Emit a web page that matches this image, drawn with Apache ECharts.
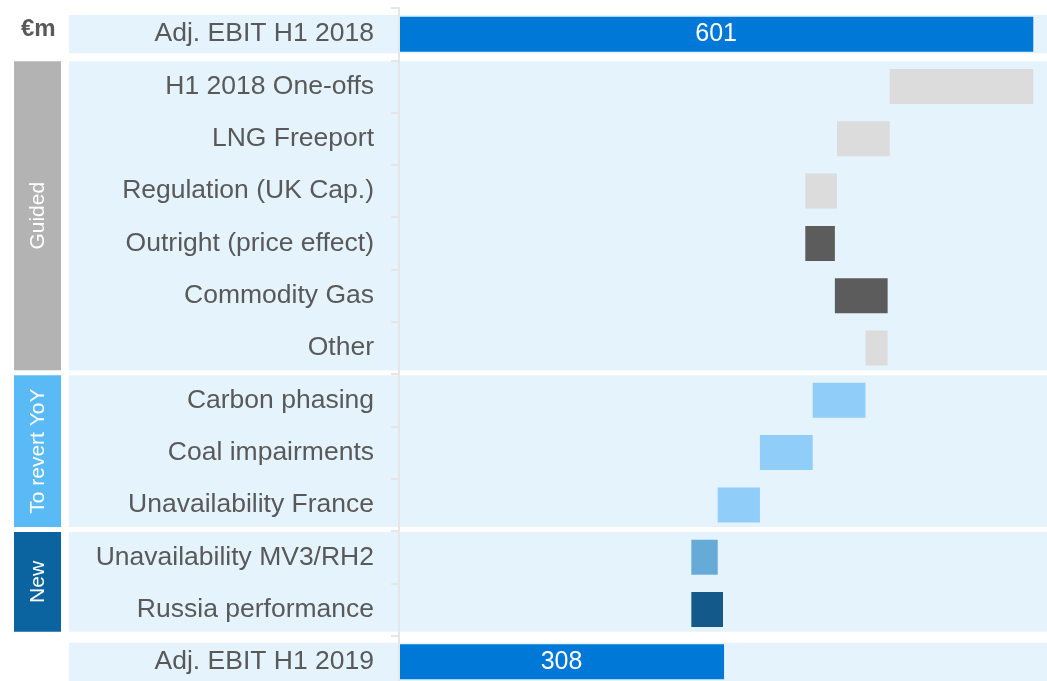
<!DOCTYPE html>
<html>
<head>
<meta charset="utf-8">
<script src="https://cdn.jsdelivr.net/npm/echarts@6/dist/echarts.min.js"></script>
<style>
  html, body { margin: 0; padding: 0; background: #fff; }
  #chart { width: 1047px; height: 681px; }
</style>
</head>
<body>
<div id="chart"></div>
<script>
// rows top to bottom
const categories = [
  "Adj. EBIT H1 2018", "H1 2018 One-offs", "LNG Freeport", "Regulation (UK Cap.)",
  "Outright (price effect)", "Commodity Gas", "Other", "Carbon phasing",
  "Coal impairments", "Unavailability France", "Unavailability MV3/RH2",
  "Russia performance", "Adj. EBIT H1 2019"
];
const startTotal = 601;
const deltas = [-136, -50, -30, 28, 50, -21, -50, -50, -40, -25, 30];
const endTotal = 308;
const barColors = [
  "#0078d7", "#dcdcdc", "#dcdcdc", "#dcdcdc", "#5c5c5c", "#5c5c5c", "#dcdcdc",
  "#90cdf8", "#90cdf8", "#90cdf8", "#66aad8", "#135a8a", "#0078d7"
];

// row groups (background bands + left labels)
const groupLabels = ["", "Guided", "To revert YoY", "New", ""];
const groupStart = [0, 1, 7, 10, 12];
const groupEnd = [0, 6, 9, 11, 12];
const groupColors = [null, "#b3b3b3", "#59baf5", "#0b64a0", null];

// waterfall: invisible base + visible part
const bases = [], sizes = [];
bases.push(0); sizes.push(startTotal);
let run = startTotal;
deltas.forEach(d => {
  const next = run + d;
  bases.push(Math.min(run, next));
  sizes.push(Math.abs(d));
  run = next;
});
bases.push(0); sizes.push(endTotal);

const chart = echarts.init(document.getElementById("chart"));

const groupData = groupLabels.map((l, i) => [groupStart[i], groupEnd[i], l, groupColors[i] || ""]);

chart.setOption({
  animation: false,
  title: {
    text: "€m", left: 16, top: 12,
    textStyle: { color: "#595959", fontSize: 24, fontWeight: "bold", fontFamily: "Liberation Sans, Arial" }
  },
  grid: { left: 399, right: 0, top: 8, height: 680, outerBoundsMode: "none", containLabel: false },
  xAxis: { type: "value", min: 0, max: 614, show: false },
  yAxis: {
    type: "category",
    data: categories,
    inverse: true,
    z: 5,
    axisLine: { lineStyle: { color: "#e6e6e6", width: 2 } },
    axisTick: { show: true, length: 8, lineStyle: { color: "#e6e6e6", width: 2 } },
    axisLabel: { color: "#595959", fontSize: 26.5, margin: 25, fontFamily: "Liberation Sans, Arial" }
  },
  series: [
    {
      type: "custom",
      z: -1,
      clip: false,
      silent: true,
      data: groupData,
      renderItem: (params, api) => {
        const s = api.value(0), e = api.value(1);
        const label = api.value(2), color = api.value(3);
        const h = api.size([0, 1])[1];
        const top = api.coord([0, s])[1] - h / 2;
        const bot = api.coord([0, e])[1] + h / 2;
        const single = s === e;
        const y0 = top + (single ? 7 : 1);
        const y1 = bot - (single ? 7 : 4);
        const children = [{
          type: "rect",
          shape: { x: 69, y: y0, width: 1047 - 69, height: y1 - y0 },
          style: { fill: "#e5f3fd" }
        }];
        if (label) {
          children.push({
            type: "rect",
            shape: { x: 14, y: y0, width: 47, height: y1 - y0 },
            style: { fill: color }
          });
          children.push({
            type: "text",
            x: 38, y: (y0 + y1) / 2,
            rotation: Math.PI / 2,
            style: {
              text: label, fill: "#fff", fontSize: 21,
              fontFamily: "Liberation Sans, Arial",
              align: "center", verticalAlign: "middle"
            }
          });
        }
        return { type: "group", children };
      }
    },
    {
      type: "bar",
      stack: "w",
      barWidth: 35,
      itemStyle: { color: "transparent" },
      silent: true,
      data: bases
    },
    {
      type: "bar",
      stack: "w",
      barWidth: 35,
      data: sizes.map((v, i) => ({
        value: v,
        itemStyle: { color: barColors[i] },
        label: {
          show: i === 0 || i === categories.length - 1,
          position: "inside",
          color: "#fff",
          fontSize: 25,
          fontFamily: "Liberation Sans, Arial"
        }
      }))
    }
  ]
});
</script>
</body>
</html>
